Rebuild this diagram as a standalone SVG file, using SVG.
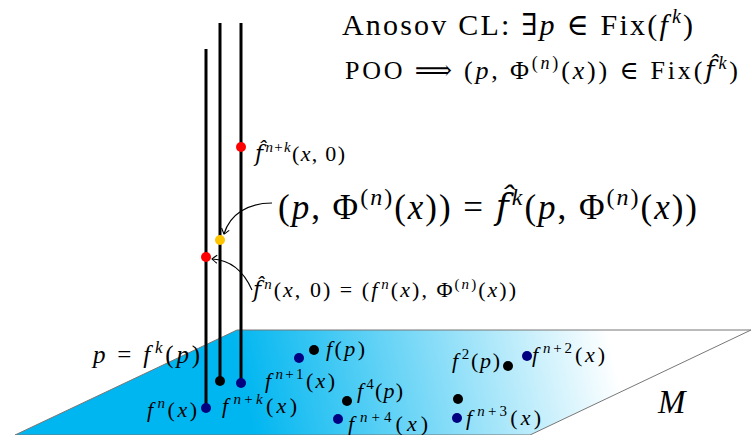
<svg xmlns="http://www.w3.org/2000/svg" width="751" height="435" viewBox="0 0 751 435">
<style>
text{font-family:"Liberation Serif","DejaVu Serif",serif;fill:#000}
.i{font-style:italic}
.h{font-family:"DejaVu Serif",serif;font-style:italic}
.fib{stroke:#000;stroke-width:3}
.arr{fill:none;stroke:#000;stroke-width:1.2}
</style>
<defs>
<linearGradient id="g" gradientUnits="userSpaceOnUse" x1="250" y1="420" x2="610" y2="340">
<stop offset="0" stop-color="#00b6f0"/>
<stop offset="1" stop-color="#ffffff"/>
</linearGradient>
<marker id="ah" viewBox="-6 -5 8 10" markerWidth="8" markerHeight="10" refX="0" refY="0" orient="auto" markerUnits="userSpaceOnUse">
<path d="M-5,-4 Q-1,-1 0,0 Q-1,1 -5,4" fill="none" stroke="#000" stroke-width="1.1"/>
</marker>
</defs>
<rect width="751" height="435" fill="#fff"/>
<g id="plane">
<polygon points="237,330 751,330 530,435 15,435" fill="url(#g)" stroke="#777" stroke-width="1"/>
<text x="658" y="413" class="i" font-size="33">M</text>
</g>
<g id="fibers">
<line class="fib" x1="206" y1="49" x2="206" y2="408"/>
<line class="fib" x1="220" y1="23" x2="220" y2="381"/>
<line class="fib" x1="241" y1="23" x2="241" y2="383"/>
</g>
<g id="dots">
<circle cx="241" cy="147" r="5" fill="#ff0000"/>
<circle cx="220" cy="240" r="5" fill="#ffc400"/>
<circle cx="206" cy="257" r="5" fill="#ff0000"/>
<circle cx="220" cy="381" r="5" fill="#000"/>
<circle cx="241" cy="383" r="5" fill="#000080"/>
<circle cx="206" cy="408" r="5" fill="#000080"/>
<circle cx="314" cy="350" r="5" fill="#000"/>
<circle cx="299" cy="358" r="5" fill="#000080"/>
<circle cx="347" cy="401" r="5" fill="#000"/>
<circle cx="338" cy="419" r="5" fill="#000080"/>
<circle cx="508" cy="366" r="5" fill="#000"/>
<circle cx="527" cy="356" r="5" fill="#000080"/>
<circle cx="458" cy="399" r="5" fill="#000"/>
<circle cx="457" cy="418" r="5" fill="#000080"/>
</g>
<g id="connectors">
<path class="arr" d="M272,203 C248,203 230,214 224,234" marker-end="url(#ah)"/>
<path class="arr" d="M252,290 C244,272 232,260 212,259" marker-end="url(#ah)"/>
</g>
<g id="title">
<text x="342" y="35" font-size="30" textLength="351">Anosov CL: ∃<tspan class="i">p</tspan> ∈ Fix(<tspan class="i">f</tspan><tspan class="i" font-size="20" dx="2" dy="-12">k</tspan><tspan dy="12">)</tspan></text>
<text x="345" y="79" font-size="26" textLength="393">POO ⟹ (<tspan class="i">p</tspan>, Φ<tspan font-size="18" dy="-10">(<tspan class="i">n</tspan>)</tspan><tspan dy="10">(</tspan><tspan class="i">x</tspan>)) ∈ Fix(<tspan class="h">f̂</tspan><tspan class="i" font-size="18" dx="1" dy="-10">k</tspan><tspan dy="10">)</tspan></text>
</g>
<g id="labels">
<text x="255" y="161" font-size="22" textLength="90"><tspan class="h">f̂</tspan><tspan class="i" font-size="15" dx="1" dy="-9">n</tspan><tspan font-size="15">+</tspan><tspan class="i" font-size="15">k</tspan><tspan dy="9">(</tspan><tspan class="i">x</tspan>, 0)</text>
<text x="278" y="219" font-size="35" textLength="419">(<tspan class="i">p</tspan>, Φ<tspan font-size="24" dy="-14">(<tspan class="i">n</tspan>)</tspan><tspan dy="14">(</tspan><tspan class="i">x</tspan>)) = <tspan class="h">f̂</tspan><tspan class="i" font-size="24" dx="1" dy="-14">k</tspan><tspan dy="14">(</tspan><tspan class="i">p</tspan>, Φ<tspan font-size="24" dy="-14">(<tspan class="i">n</tspan>)</tspan><tspan dy="14">(</tspan><tspan class="i">x</tspan>))</text>
<text x="253" y="297" font-size="22" textLength="263"><tspan class="h">f̂</tspan><tspan class="i" font-size="15" dx="1" dy="-8">n</tspan><tspan dy="8">(</tspan><tspan class="i">x</tspan>, 0) = (<tspan class="i">f</tspan><tspan class="i" font-size="15" dx="2" dy="-8">n</tspan><tspan dy="8">(</tspan><tspan class="i">x</tspan>), Φ<tspan font-size="15" dy="-8">(<tspan class="i">n</tspan>)</tspan><tspan dy="8">(</tspan><tspan class="i">x</tspan>))</text>
<text x="93" y="363" font-size="25" textLength="107"><tspan class="i">p</tspan> = <tspan class="i">f</tspan><tspan class="i" font-size="17" dx="2" dy="-10">k</tspan><tspan dy="10">(</tspan><tspan class="i">p</tspan>)</text>
<text x="326" y="356" font-size="22" textLength="39"><tspan class="i">f</tspan>(<tspan class="i">p</tspan>)</text>
<text x="265" y="388" font-size="22" textLength="70"><tspan class="i">f</tspan><tspan class="i" font-size="15" dx="2" dy="-9">n</tspan><tspan font-size="15">+1</tspan><tspan dy="9">(</tspan><tspan class="i">x</tspan>)</text>
<text x="147" y="417" font-size="22" textLength="50"><tspan class="i">f</tspan><tspan class="i" font-size="15" dx="2" dy="-9">n</tspan><tspan dy="9">(</tspan><tspan class="i">x</tspan>)</text>
<text x="222" y="413" font-size="22" textLength="75"><tspan class="i">f</tspan><tspan class="i" font-size="15" dx="2" dy="-9">n</tspan><tspan font-size="15">+</tspan><tspan class="i" font-size="15">k</tspan><tspan dy="9">(</tspan><tspan class="i">x</tspan>)</text>
<text x="357" y="398" font-size="22" textLength="46"><tspan class="i">f</tspan><tspan font-size="15" dx="2" dy="-9">4</tspan><tspan dy="9">(</tspan><tspan class="i">p</tspan>)</text>
<text x="348" y="431" font-size="22" textLength="80"><tspan class="i">f</tspan><tspan class="i" font-size="15" dx="2" dy="-9">n</tspan><tspan font-size="15">+4</tspan><tspan dy="9">(</tspan><tspan class="i">x</tspan>)</text>
<text x="452" y="368" font-size="22" textLength="48"><tspan class="i">f</tspan><tspan font-size="15" dx="2" dy="-9">2</tspan><tspan dy="9">(</tspan><tspan class="i">p</tspan>)</text>
<text x="532" y="362" font-size="22" textLength="73"><tspan class="i">f</tspan><tspan class="i" font-size="15" dx="2" dy="-9">n</tspan><tspan font-size="15">+2</tspan><tspan dy="9">(</tspan><tspan class="i">x</tspan>)</text>
<text x="466" y="425" font-size="22" textLength="75"><tspan class="i">f</tspan><tspan class="i" font-size="15" dx="2" dy="-9">n</tspan><tspan font-size="15">+3</tspan><tspan dy="9">(</tspan><tspan class="i">x</tspan>)</text>
</g>
</svg>
